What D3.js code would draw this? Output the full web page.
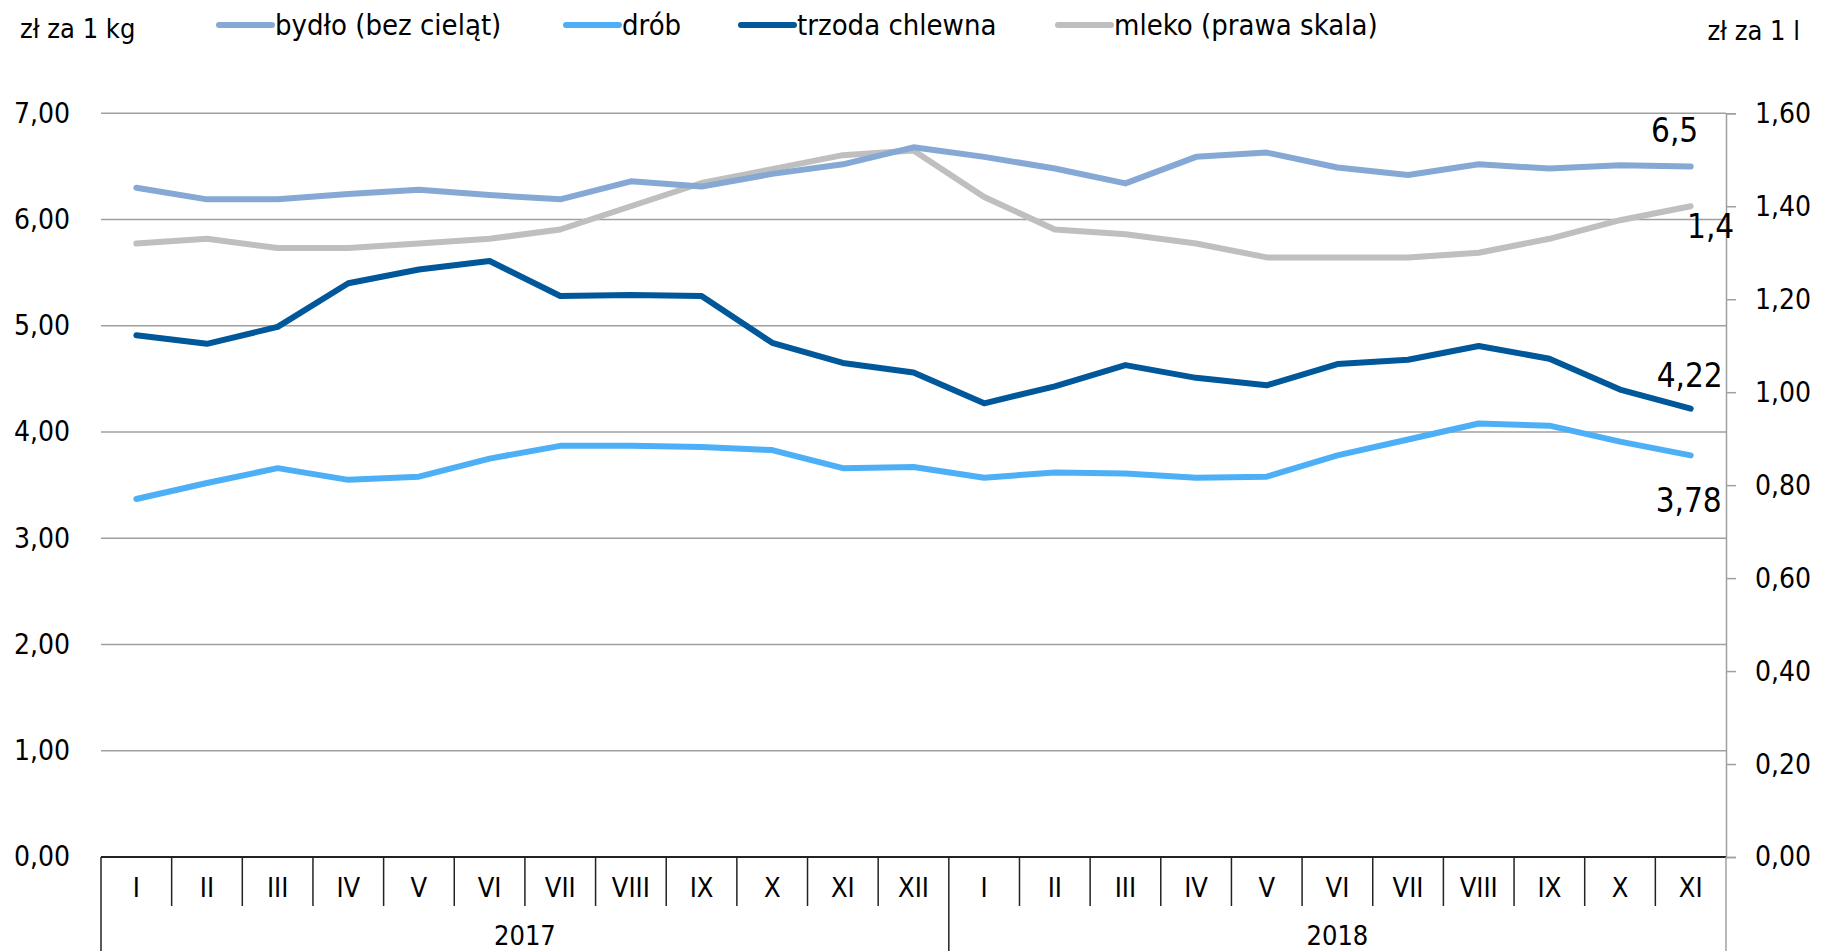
<!DOCTYPE html>
<html>
<head>
<meta charset="utf-8">
<script src="https://cdn.jsdelivr.net/npm/d3@7"></script>
<style>
  html, body { margin: 0; padding: 0; background: #fff; }
  svg text {
    font-family: "DejaVu Sans Condensed", "DejaVu Sans", sans-serif;
    font-stretch: condensed;
    fill: #000;
  }
</style>
</head>
<body>
<svg id="chart" width="1821" height="951"></svg>
<script>
// months (2017: I-XII, 2018: I-XI)
var months = ["I","II","III","IV","V","VI","VII","VIII","IX","X","XI","XII",
              "I","II","III","IV","V","VI","VII","VIII","IX","X","XI"];
var years = ["2017", "2018"];
var yearCounts = [12, 11];

// ceny, zł za 1 kg
var bydlo = [6.30,6.19,6.19,6.24,6.28,6.23,6.19,6.36,6.31,6.43,6.52,6.68,
             6.59,6.48,6.34,6.59,6.63,6.49,6.42,6.52,6.48,6.51,6.50];
var drob = [3.37,3.52,3.66,3.55,3.58,3.75,3.87,3.87,3.86,3.83,3.66,3.67,
            3.57,3.62,3.61,3.57,3.58,3.78,3.93,4.08,4.06,3.91,3.78];
var trzoda = [4.91,4.83,4.99,5.40,5.53,5.61,5.28,5.29,5.28,4.84,4.65,4.56,
              4.27,4.43,4.63,4.51,4.44,4.64,4.68,4.81,4.69,4.40,4.22];
// zł za 1 l (prawa skala)
var mleko = [1.32,1.33,1.31,1.31,1.32,1.33,1.35,1.40,1.45,1.48,1.51,1.52,
             1.42,1.35,1.34,1.32,1.29,1.29,1.29,1.30,1.33,1.37,1.40];

var leftTicks = [0, 1, 2, 3, 4, 5, 6, 7];
var rightTicks = [0, 0.2, 0.4, 0.6, 0.8, 1.0, 1.2, 1.4, 1.6];

var fmt2 = function (v) { return d3.format(".2f")(v).replace(".", ","); };

var svg = d3.select("#chart");

var plotLeft = 101, plotRight = 1726, plotTop = 113.3, plotBottom = 857;

var x = d3.scaleBand().domain(d3.range(months.length)).range([plotLeft, plotRight]);
var y = d3.scaleLinear().domain([0, 7]).range([plotBottom, plotTop]);
var yR = d3.scaleLinear().domain([0, 1.6]).range([plotBottom, plotTop]);

// gridlines
svg.append("g").attr("class", "grid")
  .selectAll("line")
  .data(leftTicks.filter(function (d) { return d > 0; }))
  .join("line")
  .attr("x1", plotLeft).attr("x2", plotRight)
  .attr("y1", function (d) { return y(d); })
  .attr("y2", function (d) { return y(d); })
  .attr("stroke", "#a0a0a0")
  .attr("stroke-width", 1.5);

// left axis labels
var gl = svg.append("g")
  .attr("transform", "translate(" + plotLeft + ",0)")
  .call(d3.axisLeft(y).tickValues(leftTicks).tickSize(0).tickPadding(31).tickFormat(fmt2));
gl.select(".domain").remove();
gl.selectAll("text").style("font-size", "28px");

// right axis
var gr = svg.append("g")
  .attr("transform", "translate(" + plotRight + ",0)")
  .call(d3.axisRight(yR).tickValues(rightTicks).tickSize(10).tickPadding(19).tickFormat(fmt2));
gr.select(".domain").attr("stroke", "#a0a0a0").attr("stroke-width", 1.5);
gr.selectAll(".tick line").attr("stroke", "#a0a0a0").attr("stroke-width", 1.5);
gr.selectAll("text").style("font-size", "28px");

// category axis
var xa = svg.append("g").attr("class", "x_axis");
xa.append("line")
  .attr("x1", plotLeft).attr("x2", plotRight)
  .attr("y1", plotBottom).attr("y2", plotBottom)
  .attr("stroke", "#222").attr("stroke-width", 2);

var bounds = d3.range(months.length + 1);
var yearEdges = [0, yearCounts[0], yearCounts[0] + yearCounts[1]];
xa.selectAll("line.sep")
  .data(bounds)
  .join("line")
  .attr("class", "sep")
  .attr("x1", function (i) { return plotLeft + i * x.step(); })
  .attr("x2", function (i) { return plotLeft + i * x.step(); })
  .attr("y1", plotBottom)
  .attr("y2", function (i) { return yearEdges.indexOf(i) >= 0 ? 951 : 906; })
  .attr("stroke", function (i) { return i === months.length ? "#a0a0a0" : "#222"; })
  .attr("stroke-width", 1.5);

xa.selectAll("text.month")
  .data(months)
  .join("text")
  .attr("class", "month")
  .attr("x", function (d, i) { return x(i) + x.bandwidth() / 2; })
  .attr("y", 897)
  .attr("text-anchor", "middle")
  .style("font-size", "27px")
  .text(function (d) { return d; });

xa.selectAll("text.year")
  .data(years)
  .join("text")
  .attr("class", "year")
  .attr("x", function (d, i) {
    var a = plotLeft + yearEdges[i] * x.step(), b = plotLeft + yearEdges[i + 1] * x.step();
    return (a + b) / 2;
  })
  .attr("y", 945)
  .attr("text-anchor", "middle")
  .style("font-size", "27px")
  .text(function (d) { return d; });

// lines
var series = [
  { name: "mleko (prawa skala)", vals: mleko, color: "#bfbfbf", scale: yR },
  { name: "bydło (bez cieląt)", vals: bydlo, color: "#86a8d4", scale: y },
  { name: "drób", vals: drob, color: "#4db0f7", scale: y },
  { name: "trzoda chlewna", vals: trzoda, color: "#00589a", scale: y }
];

series.forEach(function (s) {
  var line = d3.line()
    .x(function (d, i) { return x(i) + x.bandwidth() / 2; })
    .y(function (d) { return s.scale(d); });
  svg.append("path")
    .datum(s.vals)
    .attr("d", line)
    .attr("fill", "none")
    .attr("stroke", s.color)
    .attr("stroke-width", 6)
    .attr("stroke-linejoin", "round")
    .attr("stroke-linecap", "round");
});

// end labels
var last = months.length - 1;
var lx = x(last) + x.bandwidth() / 2;
var endLabels = [
  { text: "6,5", yv: y(bydlo[last]), dx: -16, dy: -24 },
  { text: "1,4", yv: yR(mleko[last]), dx: 20, dy: 32 },
  { text: "4,22", yv: y(trzoda[last]), dx: -1, dy: -22 },
  { text: "3,78", yv: y(drob[last]), dx: -2, dy: 57 }
];
svg.append("g").selectAll("text")
  .data(endLabels)
  .join("text")
  .attr("x", function (d) { return lx + d.dx; })
  .attr("y", function (d) { return d.yv + d.dy; })
  .attr("text-anchor", "middle")
  .style("font-size", "33px")
  .text(function (d) { return d.text; });

// legend
var legendItems = [
  { name: "bydło (bez cieląt)", color: "#86a8d4", x: 219 },
  { name: "drób", color: "#4db0f7", x: 566 },
  { name: "trzoda chlewna", color: "#00589a", x: 741 },
  { name: "mleko (prawa skala)", color: "#bfbfbf", x: 1058 }
];
var lg = svg.append("g").attr("class", "legend");
legendItems.forEach(function (d) {
  lg.append("line")
    .attr("x1", d.x).attr("x2", d.x + 53)
    .attr("y1", 25).attr("y2", 25)
    .attr("stroke", d.color).attr("stroke-width", 6)
    .attr("stroke-linecap", "round");
  lg.append("text")
    .attr("x", d.x + 56).attr("y", 35)
    .style("font-size", "29px")
    .text(d.name);
});

// unit labels
svg.append("text").attr("x", 20).attr("y", 38).style("font-size", "27px").text("zł za 1 kg");
svg.append("text").attr("x", 1800).attr("y", 40).attr("text-anchor", "end").style("font-size", "27px").text("zł za 1 l");
</script>
</body>
</html>
